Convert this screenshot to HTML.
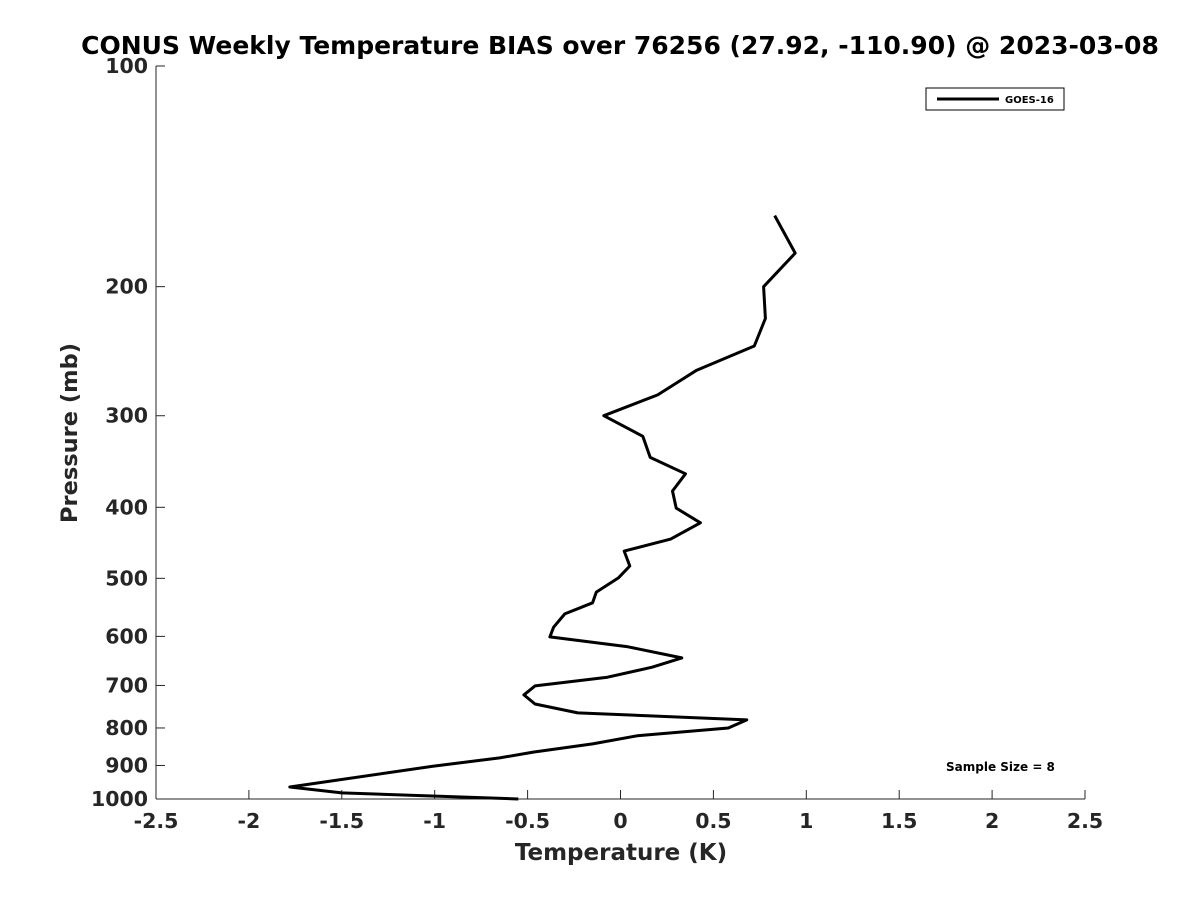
<!DOCTYPE html>
<html><head><meta charset="utf-8"><style>
body{margin:0;background:#fff;font-family:"Liberation Sans",sans-serif}
svg text{font-family:"DejaVu Sans","Liberation Sans",sans-serif;font-weight:bold;fill:#262626}
</style></head><body>
<svg id="chart" width="1200" height="900" viewBox="0 0 1200 900" xmlns="http://www.w3.org/2000/svg">
<rect width="1200" height="900" fill="#fff"/>
<text x="620" y="54" text-anchor="middle" font-size="25" style="fill:#000">CONUS Weekly Temperature BIAS over 76256 (27.92, -110.90) @ 2023-03-08</text>
<g id="axes"></g>
<polyline id="line" fill="none" stroke="#000" stroke-width="3" stroke-linejoin="round"/>
<g>
<rect x="926" y="88" width="138" height="22" fill="#fff" stroke="#000" stroke-width="1"/>
<line x1="937" y1="99" x2="999" y2="99" stroke="#000" stroke-width="3"/>
<text x="1005" y="103" font-size="10" style="fill:#000">GOES-16</text>
</g>
<text x="946" y="771" font-size="12" style="fill:#000">Sample Size = 8</text>
<text x="621" y="860" text-anchor="middle" font-size="23">Temperature (K)</text>
<text transform="translate(77,433) rotate(-90)" text-anchor="middle" font-size="22.5">Pressure (mb)</text>
</svg>
<script>
const temps=[0.83,0.94,0.77,0.78,0.72,0.41,0.20,-0.09,0.12,0.16,0.35,0.28,0.30,0.43,0.27,0.02,0.05,-0.01,-0.13,-0.15,-0.30,-0.36,-0.38,0.04,0.33,0.17,-0.07,-0.46,-0.52,-0.46,-0.23,0.68,0.58,0.09,-0.15,-0.47,-0.65,-1.01,-1.78,-1.50,-0.55];
const pressures=[160,180,200,221,241,260,281,300,320,342,360,380,401,420,442,459,481,499,522,540,559,583,601,620,642,661,682,701,721,742,763,780,800,820,841,863,879,902,963,981,1000];
const xTicks=[-2.5,-2,-1.5,-1,-0.5,0,0.5,1,1.5,2,2.5];
const yTicks=[100,200,300,400,500,600,700,800,900,1000];
const X0=156,X1=1085,Y0=66,Y1=799;
function xs(v){return X0+(v+2.5)/5*(X1-X0);}
function ys(p){return Y0+Math.log10(p/100)*(Y1-Y0);}
const ns="http://www.w3.org/2000/svg";
const ax=document.getElementById('axes');
function mk(t,a){const e=document.createElementNS(ns,t);for(const k in a)e.setAttribute(k,a[k]);ax.appendChild(e);return e;}
const xl=mk('line',{x1:X0,y1:Y1,x2:X1,y2:Y1,stroke:'#262626','stroke-width':1});


const yl=mk('line',{x1:X0,y1:Y0,x2:X0,y2:Y1,stroke:'#262626','stroke-width':1});


xTicks.forEach(v=>{const x=xs(v);
mk('line',{x1:x,y1:Y1,x2:x,y2:Y1-9,stroke:'#262626'});
const t=mk('text',{x:x,y:Y1+29,'text-anchor':'middle','font-size':20.5});t.textContent=String(v);

});
yTicks.forEach(v=>{const y=ys(v);
mk('line',{x1:X0,y1:y,x2:X0+9,y2:y,stroke:'#262626'});
const t=mk('text',{x:X0-8,y:y+7,'text-anchor':'end','font-size':20.5});t.textContent=String(v);

});
document.getElementById('line').setAttribute('points',temps.map((t,i)=>xs(t).toFixed(1)+','+ys(pressures[i]).toFixed(1)).join(' '));
</script>
</body></html>
